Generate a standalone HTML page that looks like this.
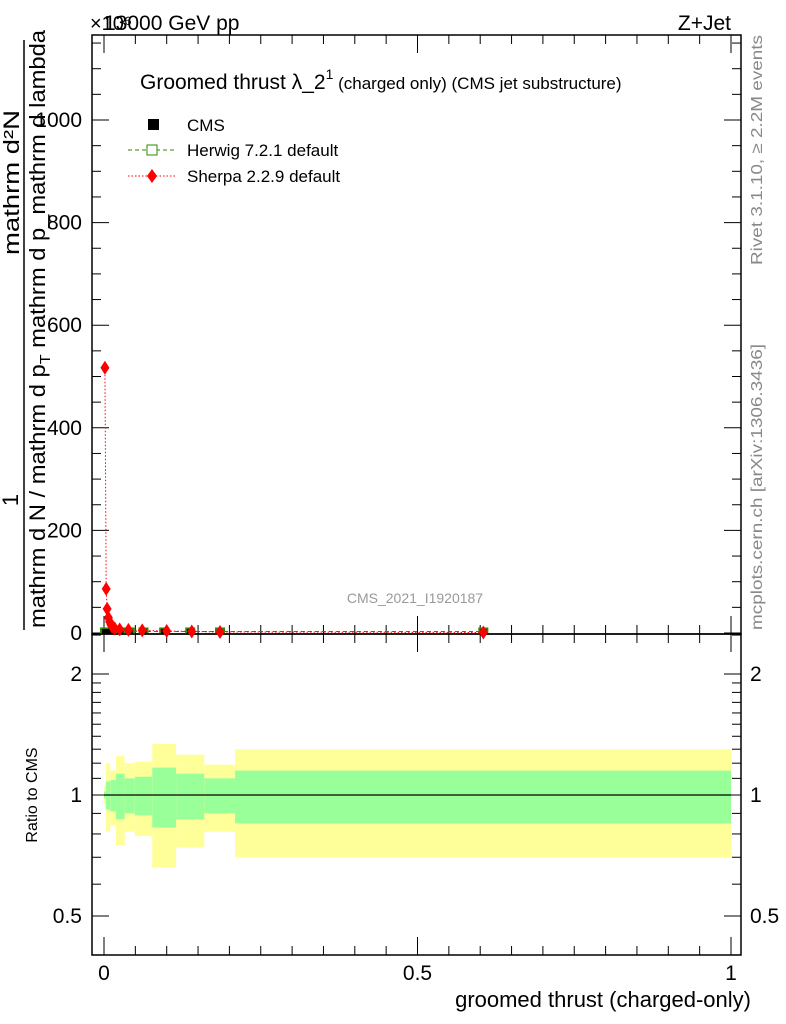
<!DOCTYPE html>
<html><head><meta charset="utf-8"><style>
body{margin:0;background:#fff}
svg{display:block;font-family:"Liberation Sans",sans-serif}
</style></head><body>
<svg id="c" width="786" height="1024" viewBox="0 0 786 1024">
<g id="bands"></g>
<g id="frames">
<rect x="92" y="35" width="649" height="599" fill="none" stroke="#000" stroke-width="1.5"/>
<rect x="92" y="634" width="649" height="321" fill="none" stroke="#000" stroke-width="1.5"/>
</g>
<g id="ticks"></g>
<g id="marks"></g>
<text x="90" y="30" font-size="20">×10⁶</text>
<text x="104" y="30" font-size="21">13000 GeV pp</text>
<text x="731" y="30" font-size="21" text-anchor="end">Z+Jet</text>
<text x="140" y="89" font-size="21">Groomed thrust λ_2<tspan font-size="14" dy="-10">1</tspan><tspan font-size="17" dy="10"> (charged only) (CMS jet substructure)</tspan></text>
<g>
<rect x="148" y="119" width="11" height="11" fill="#000"/>
<text x="187" y="131" font-size="17">CMS</text>
<line x1="128" y1="150" x2="175" y2="150" stroke="#2a8a00" stroke-dasharray="4,3"/>
<rect x="147" y="145" width="10" height="10" fill="#fff" stroke="#2a8a00"/>
<text x="187" y="156" font-size="17">Herwig 7.2.1 default</text>
<line x1="128" y1="176" x2="175" y2="176" stroke="#f00" stroke-dasharray="1.5,2"/>
<path d="M152,169 L157,176 L152,183 L147,176 Z" fill="#f00"/>
<text x="187" y="182" font-size="17">Sherpa 2.2.9 default</text>
</g>
<text x="415" y="603" font-size="14" fill="#999" text-anchor="middle">CMS_2021_I1920187</text>
<text transform="translate(762,265) rotate(-90)" font-size="16" fill="#888" textLength="230" lengthAdjust="spacingAndGlyphs">Rivet 3.1.10, ≥ 2.2M events</text>
<text transform="translate(762,630) rotate(-90)" font-size="16" fill="#888" textLength="286" lengthAdjust="spacingAndGlyphs">mcplots.cern.ch [arXiv:1306.3436]</text>
<g font-size="22">
<text transform="translate(18,500) rotate(-90)" text-anchor="middle">1</text>
<line x1="24" y1="40" x2="24" y2="630" stroke="#000" stroke-width="1.5"/>
<text transform="translate(19,255) rotate(-90)" textLength="145" lengthAdjust="spacingAndGlyphs">mathrm d²N</text>
<text transform="translate(45,628) rotate(-90)" textLength="598" lengthAdjust="spacingAndGlyphs">mathrm d N / mathrm d p<tspan font-size="15" dy="5">T</tspan><tspan dy="-5"> mathrm d p_mathrm d lambda</tspan></text>
</g>
<text transform="translate(37,795) rotate(-90)" font-size="16" text-anchor="middle">Ratio to CMS</text>
<text x="751" y="1007" font-size="22" text-anchor="end">groomed thrust (charged-only)</text>
</svg>
<script>
const binEdges=[0,0.003,0.01,0.019,0.033,0.049,0.077,0.115,0.16,0.209,1.0];
const yellowUp=[1.05,1.20,1.15,1.25,1.20,1.21,1.34,1.26,1.19,1.30];
const yellowDn=[0.95,0.81,0.84,0.75,0.81,0.79,0.66,0.74,0.81,0.70];
const greenUp=[1.02,1.08,1.09,1.13,1.10,1.11,1.17,1.13,1.10,1.15];
const greenDn=[0.98,0.92,0.91,0.87,0.90,0.89,0.83,0.87,0.90,0.85];
const sherpaX=[0.0015,0.0035,0.005,0.007,0.009,0.011,0.013,0.017,0.025,0.039,0.061,0.1,0.14,0.185,0.605];
const sherpaY=[517,86,47,30,22,16,12,9,7,6,5,4,3,2,1];
const herwigX=[0.0015,0.0065,0.0145,0.026,0.041,0.063,0.096,0.1375,0.185,0.605];
const herwigY=[3,3,3,3,3,3,3,3,3,3];
const cmsX=[0.0015,0.0065,0.0145,0.026,0.041,0.063,0.096,0.1375,0.185,0.605];
const cmsY=[2,2,2,2,2,2,2,2,2,2];
const yTicks=[0,200,400,600,800,1000];
const xTicks=[0,0.5,1];
const rTicks=[0.5,1,2];

const NS="http://www.w3.org/2000/svg";
const X=v=>104+627*v;
const Y=v=>633-0.513*v;
const R=v=>795-121*Math.log2(v);
function mk(p,t,a){const e=document.createElementNS(NS,t);for(const k in a)e.setAttribute(k,a[k]);p.appendChild(e);return e;}
const bands=document.getElementById('bands'),ticks=document.getElementById('ticks'),marks=document.getElementById('marks');
for(let i=0;i<binEdges.length-1;i++){
 const x0=X(binEdges[i]),x1=X(binEdges[i+1]);
 const y=mk(bands,'rect',{x:x0,y:R(yellowUp[i]),width:x1-x0,height:R(yellowDn[i])-R(yellowUp[i]),fill:'#ffff99'});
 
 
 const g=mk(bands,'rect',{x:x0,y:R(greenUp[i]),width:x1-x0,height:R(greenDn[i])-R(greenUp[i]),fill:'#99ff99'});
 
 
}
const ref=mk(bands,'line',{x1:X(0),x2:X(1),y1:R(1),y2:R(1),stroke:'#000','stroke-width':1.3});


for(let v=0;v<=1150;v+=50){const maj=v%200===0;
 mk(ticks,'line',{x1:92,x2:92+(maj?17:9),y1:Y(v),y2:Y(v),stroke:'#000'});
 mk(ticks,'line',{x1:741,x2:741-(maj?17:9),y1:Y(v),y2:Y(v),stroke:'#000'});}
yTicks.forEach(v=>{const t=mk(ticks,'text',{x:82,y:Y(v)+7,'font-size':21,'text-anchor':'end'});t.textContent=v;
 
 });
for(let k=-1;k<=20;k++){const v=k*0.05;if(X(v)<92||X(v)>741)continue;const maj=k%10===0;
 [[634,-1],[35,1],[955,-1],[634,1]].forEach(([y0,d])=>mk(ticks,'line',{x1:X(v),x2:X(v),y1:y0,y2:y0+d*(maj?18:9),stroke:'#000'}));}
xTicks.forEach(v=>{const t=mk(ticks,'text',{x:X(v),y:980,'font-size':21,'text-anchor':'middle'});t.textContent=v;
 
 });
[0.4,0.5,0.6,0.7,0.8,0.9,1,1.1,1.2,1.3,1.4,1.5,1.6,1.7,1.8,1.9,2,2.5].forEach(v=>{if(R(v)<634||R(v)>955)return;const maj=rTicks.includes(v);
 mk(ticks,'line',{x1:92,x2:92+(maj?17:9),y1:R(v),y2:R(v),stroke:'#000'});
 mk(ticks,'line',{x1:741,x2:741-(maj?17:9),y1:R(v),y2:R(v),stroke:'#000'});});
rTicks.forEach(v=>{[[82,'end'],[750,'start']].forEach(([x,a])=>{const t=mk(ticks,'text',{x:x,y:R(v)+7,'font-size':21,'text-anchor':a});t.textContent=v;
 
 });});
const hl=mk(marks,'polyline',{points:herwigX.map((x,i)=>X(x)+','+Y(herwigY[i])).join(' '),fill:'none',stroke:'#2a8a00','stroke-dasharray':'4,3'});


herwigX.forEach((x,i)=>{const r=mk(marks,'rect',{x:X(x)-5,y:Y(herwigY[i])-4,width:10,height:6,fill:'#2a8a00'});
 
 });
cmsX.forEach((x,i)=>{const r=mk(marks,'rect',{x:X(x)-3,y:Y(cmsY[i])-3,width:6,height:5,fill:'#000'});
 
 });
const sl=mk(marks,'polyline',{points:sherpaX.map((x,i)=>X(x)+','+Y(sherpaY[i])).join(' '),fill:'none',stroke:'#f00','stroke-dasharray':'1.5,2'});


sherpaX.forEach((x,i)=>{const cx=X(x),cy=Y(sherpaY[i]);
 const p=mk(marks,'path',{d:`M${cx},${cy-7} L${cx+4.5},${cy} L${cx},${cy+7} L${cx-4.5},${cy} Z`,fill:'#f00'});
 
 });
</script>
</body></html>
